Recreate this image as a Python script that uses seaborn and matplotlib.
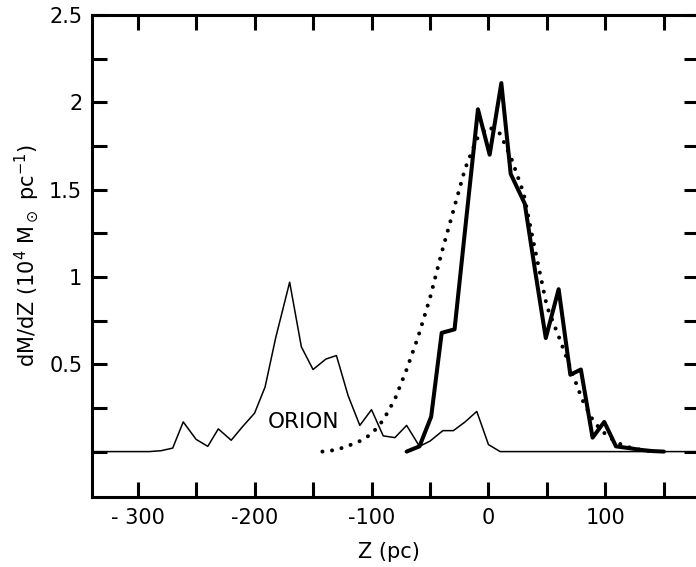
import numpy as np
import pandas as pd
import matplotlib
matplotlib.use("Agg")
import matplotlib.pyplot as plt
import seaborn as sns

# thin curve (Orion + local component), Z in pc, dM/dZ in 10^4 Msun/pc
z_thin = [-340, -290, -280, -270, -261, -250, -240, -231, -220, -210, -200,
          -191, -182, -170, -160, -150, -139, -130, -120, -110, -100, -90,
          -80, -70, -59, -50, -39, -30, -20, -10, 0, 10, 180]
m_thin = [0, 0, 0.005, 0.02, 0.17, 0.07, 0.03, 0.13, 0.065, 0.145, 0.22,
          0.37, 0.65, 0.97, 0.60, 0.47, 0.53, 0.55, 0.32, 0.15, 0.24, 0.09,
          0.08, 0.15, 0.03, 0.06, 0.12, 0.12, 0.17, 0.23, 0.04, 0, 0]

# thick curve
z_thick = [-70, -59, -49, -40, -29, -20, -9, 1, 11, 19, 31, 40, 49, 60,
           70, 79, 89, 99, 109, 120, 130, 140, 150]
m_thick = [0, 0.03, 0.20, 0.68, 0.70, 1.27, 1.96, 1.70, 2.11, 1.59, 1.42,
           1.03, 0.65, 0.93, 0.44, 0.47, 0.08, 0.17, 0.03, 0.02, 0.01,
           0.003, 0]

# dotted fit
z_fit = [-142, -130, -120, -110, -100, -90, -80, -70, -60, -50, -40, -30,
         -20, -10, 0, 10, 20, 30, 40, 50, 60, 70, 80, 90, 100, 110, 120,
         130, 140]
m_fit = [0, 0.01, 0.033, 0.06, 0.10, 0.18, 0.30, 0.47, 0.66, 0.88, 1.14,
         1.38, 1.62, 1.79, 1.86, 1.82, 1.67, 1.48, 1.15, 0.83, 0.66, 0.48,
         0.30, 0.17, 0.10, 0.05, 0.025, 0.01, 0]

x_ticks = [-300, -250, -200, -150, -100, -50, 0, 50, 100, 150]
x_labels = ["- 300", "", "-200", "", "-100", "", "0", "", "100", ""]
y_ticks = [0, 0.25, 0.5, 0.75, 1, 1.25, 1.5, 1.75, 2, 2.25, 2.5]
y_labels = ["", "", "0.5", "", "1", "", "1.5", "", "2", "", "2.5"]

sns.set_style("ticks")
plt.rcParams["font.family"] = ["DejaVu Sans"]
plt.rcParams["text.color"] = "black"
plt.rcParams["axes.labelcolor"] = "black"
plt.rcParams["xtick.color"] = "black"
plt.rcParams["ytick.color"] = "black"

fig = plt.figure(figsize=(6.96, 5.67), dpi=100)
ax = fig.add_axes([92 / 696, 70 / 567, 607 / 696, 482 / 567])

sns.lineplot(x=z_thin, y=m_thin, ax=ax, color="black", linewidth=1.1)
sns.lineplot(x=z_thick, y=m_thick, ax=ax, color="black", linewidth=2.9)
sns.lineplot(x=z_fit, y=m_fit, ax=ax, color="black", linewidth=2.9,
             linestyle=(0, (0.01, 2.4)), dash_capstyle="round")

ax.set_xlim(-339, 180)
ax.set_ylim(-0.26, 2.5)

ax.set_xticks(x_ticks)
ax.set_xticklabels(x_labels)
ax.set_yticks(y_ticks)
ax.set_yticklabels(y_labels)

for s in ax.spines.values():
    s.set_linewidth(2.2)
    s.set_color("black")

ax.tick_params(axis="both", direction="in", length=10.5, width=2.2,
               labelsize=15, top=True, right=True, color="black",
               labelcolor="black")
ax.tick_params(axis="x", pad=8)
ax.tick_params(axis="y", pad=7)

ax.text(-158, 0.17, "ORION", fontsize=15.5, ha="center", va="center")

ax.set_xlabel("Z (pc)", fontsize=15, labelpad=10, x=0.489)
ax.set_ylabel(r"dM/dZ (10$^4$ M$_\odot$ pc$^{-1}$)", fontsize=15, labelpad=6)

fig.savefig("out.png", dpi=100)
